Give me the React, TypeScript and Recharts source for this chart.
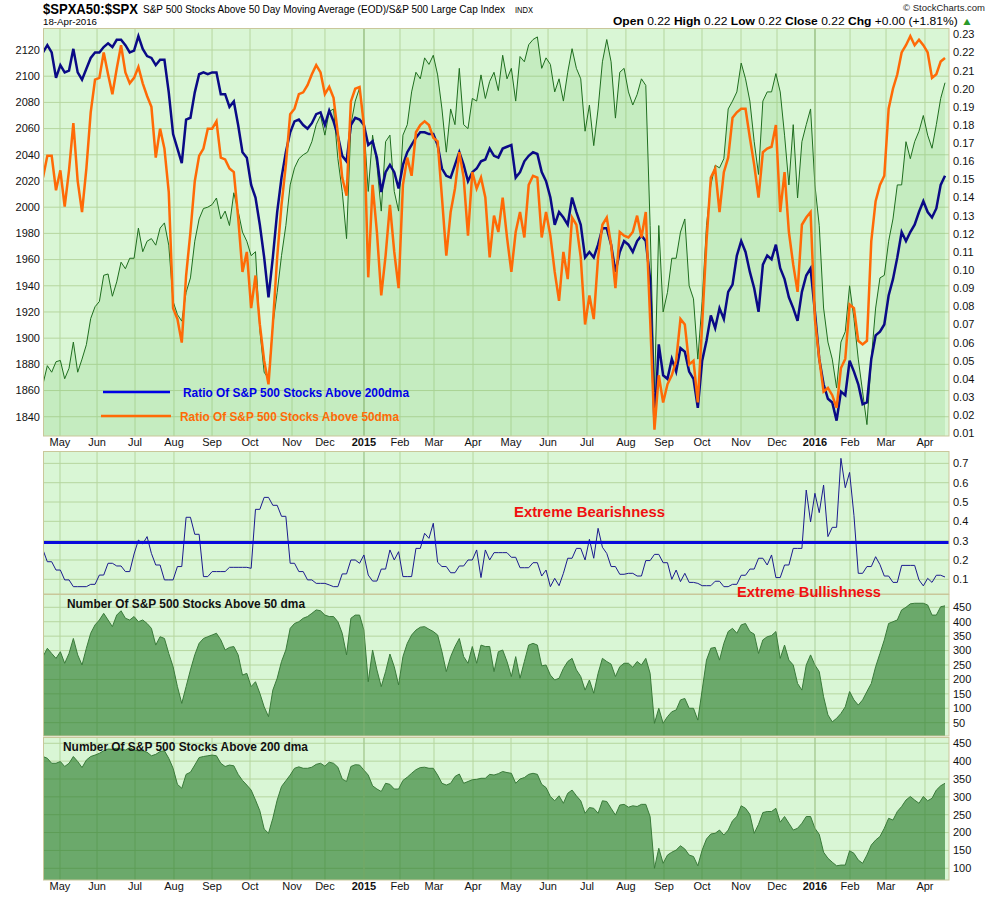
import React from "react";
import {
  ComposedChart,
  LineChart,
  AreaChart,
  Area,
  Line,
  XAxis,
  YAxis,
  CartesianGrid,
  ReferenceLine,
} from "recharts";

// x is measured in weeks from 17-Apr-2014 (0) to 18-Apr-2016 (104); one reading every half week
const monthTicks = [
  1.96, 6.23, 10.61, 15.1, 19.49, 23.87, 28.71, 32.51, 37.01, 41.16, 45.08, 49.58,
  53.96, 58.23, 62.72, 67.21, 71.6, 75.98, 80.48, 84.63, 89.01, 93.05, 97.2, 101.69,
];
const monthLabels = [
  "May", "Jun", "Jul", "Aug", "Sep", "Oct", "Nov", "Dec", "2015", "Feb", "Mar", "Apr",
  "May", "Jun", "Jul", "Aug", "Sep", "Oct", "Nov", "Dec", "2016", "Feb", "Mar", "Apr",
];
const yearTicks = [37.01, 89.01];

// S&P 500 close (left axis)
const spx = [
  1865, 1879, 1874, 1882, 1883, 1869, 1877, 1897, 1874, 1884,
  1895, 1915, 1924, 1928, 1948, 1949, 1932, 1943, 1958, 1953,
  1961, 1961, 1984, 1966, 1974, 1976, 1971, 1984, 1988, 1971,
  1928, 1918, 1913, 1935, 1946, 1974, 1991, 1999, 2000, 2002,
  2007, 1991, 1997, 1986, 2011, 1997, 1981, 1974, 1963, 1966,
  1906, 1874, 1869, 1910, 1935, 1963, 1986, 2017, 2030, 2037,
  2040, 2042, 2050, 2063, 2070, 2055, 2073, 2075, 2037, 2012,
  1976, 2063, 2081, 2091, 2063, 2012, 2055, 2032, 1997, 2050,
  2055, 2012, 1997, 2055, 2063, 2088, 2103, 2098, 2114, 2109,
  2116, 2101, 2075, 2042, 2075, 2063, 2106, 2063, 2060, 2083,
  2081, 2101, 2083, 2096, 2103,
  2089, 2116, 2098, 2106, 2081, 2115, 2111, 2124, 2128, 2130,
  2106, 2114, 2109, 2088, 2098, 2081, 2103, 2121, 2106, 2098,
  2058, 2078, 2047, 2075, 2111, 2128, 2111, 2068, 2103, 2106,
  2088, 2078, 2086, 2098, 2093, 1986, 1859, 1986, 1920, 1935,
  1961, 1961, 1981, 1991, 1940, 1930, 1884, 1928, 1986, 2017,
  2032, 2030, 2037, 2075, 2081, 2088, 2110, 2098, 2081, 2050,
  2025, 2081, 2088, 2088, 2102, 2088, 2055, 2017, 2063, 2007,
  2050, 2063, 2075, 2017, 1986, 1923, 1897, 1884, 1862, 1897,
  1905, 1940, 1915, 1884, 1859, 1834, 1884, 1923, 1946, 1948,
  1974, 1991, 2017, 2017, 2050, 2037, 2050, 2058, 2070, 2055,
  2045, 2063, 2083, 2095,
];

// Ratio of S&P 500 stocks above 200dma (right axis)
const ratio200 = [
  0.22, 0.224, 0.22, 0.206, 0.213, 0.209, 0.21, 0.222, 0.209, 0.205,
  0.211, 0.217, 0.22, 0.22, 0.223, 0.225, 0.223, 0.227, 0.227, 0.224,
  0.22, 0.221, 0.229, 0.222, 0.218, 0.217, 0.213, 0.216, 0.216, 0.198,
  0.175, 0.167, 0.159, 0.183, 0.184, 0.198, 0.208, 0.209, 0.208, 0.209,
  0.209, 0.197, 0.197, 0.19, 0.193, 0.18, 0.165, 0.162, 0.147, 0.14,
  0.125, 0.107, 0.085, 0.107, 0.132, 0.151, 0.165, 0.176, 0.182, 0.183,
  0.18, 0.178, 0.181, 0.186, 0.187, 0.18, 0.188, 0.182, 0.174, 0.163,
  0.16, 0.18, 0.184, 0.183, 0.18, 0.169, 0.171, 0.162, 0.143, 0.154,
  0.158, 0.154, 0.145, 0.158, 0.165, 0.169, 0.173, 0.176, 0.176, 0.175,
  0.175, 0.169, 0.156, 0.152, 0.151, 0.158, 0.165, 0.158, 0.149, 0.154,
  0.156, 0.16, 0.161, 0.167, 0.163,
  0.162, 0.167, 0.168, 0.169, 0.151, 0.154, 0.16, 0.163, 0.165, 0.164,
  0.154, 0.149, 0.14, 0.125, 0.132, 0.129, 0.125, 0.14, 0.132, 0.125,
  0.107, 0.11, 0.107, 0.114, 0.123, 0.123, 0.114, 0.099, 0.11, 0.116,
  0.114, 0.11, 0.116, 0.119, 0.116, 0.095, 0.015, 0.059, 0.042, 0.04,
  0.051, 0.044, 0.057, 0.055, 0.044, 0.04, 0.024, 0.05, 0.061, 0.075,
  0.068, 0.079, 0.073, 0.088, 0.092, 0.108, 0.116, 0.11, 0.099, 0.09,
  0.077, 0.103, 0.108, 0.106, 0.114, 0.101, 0.095, 0.085, 0.079, 0.072,
  0.088, 0.097, 0.101, 0.077, 0.051, 0.037, 0.029, 0.027, 0.017, 0.033,
  0.031, 0.05, 0.044, 0.037, 0.026, 0.027, 0.051, 0.064, 0.066, 0.07,
  0.086, 0.095, 0.107, 0.121, 0.116, 0.121, 0.125, 0.132, 0.138, 0.132,
  0.129, 0.134, 0.147, 0.152,
];

// Ratio of S&P 500 stocks above 50dma (right axis)
const ratio50 = [
  0.151, 0.163, 0.163, 0.144, 0.155, 0.135, 0.155, 0.181, 0.149, 0.132,
  0.156, 0.187, 0.205, 0.206, 0.22, 0.208, 0.197, 0.211, 0.224, 0.209,
  0.203, 0.206, 0.212, 0.203, 0.196, 0.19, 0.162, 0.178, 0.167, 0.143,
  0.079, 0.073, 0.06, 0.097, 0.121, 0.149, 0.163, 0.167, 0.178, 0.178,
  0.182, 0.162, 0.161, 0.156, 0.154, 0.129, 0.099, 0.11, 0.079, 0.097,
  0.07, 0.05, 0.037, 0.07, 0.107, 0.136, 0.158, 0.186, 0.189, 0.197,
  0.198, 0.202, 0.208, 0.213, 0.209, 0.197, 0.201, 0.195, 0.175, 0.151,
  0.141, 0.193, 0.2, 0.201, 0.18, 0.096, 0.147, 0.121, 0.086, 0.108,
  0.136, 0.11, 0.09, 0.147, 0.162, 0.152, 0.176, 0.18, 0.182, 0.18,
  0.173, 0.171, 0.14, 0.108, 0.132, 0.145, 0.165, 0.151, 0.119, 0.154,
  0.145, 0.151, 0.14, 0.107, 0.13,
  0.121, 0.14, 0.118, 0.099, 0.121, 0.132, 0.118, 0.147, 0.152, 0.151,
  0.118, 0.132, 0.119, 0.099, 0.083, 0.11, 0.095, 0.129, 0.125, 0.107,
  0.07, 0.086, 0.073, 0.107, 0.125, 0.129, 0.114, 0.09, 0.121, 0.119,
  0.118, 0.121, 0.13, 0.118, 0.132, 0.073, 0.012, 0.042, 0.027, 0.037,
  0.042, 0.05, 0.073, 0.07, 0.048, 0.05, 0.027, 0.07, 0.116, 0.151,
  0.156, 0.132, 0.154, 0.162, 0.184, 0.187, 0.189, 0.189, 0.173, 0.158,
  0.14, 0.165, 0.167, 0.168, 0.18, 0.132, 0.154, 0.121, 0.103, 0.088,
  0.125, 0.129, 0.132, 0.073, 0.051, 0.033, 0.035, 0.031, 0.024, 0.046,
  0.051, 0.081, 0.079, 0.061, 0.059, 0.061, 0.116, 0.138, 0.147, 0.152,
  0.189, 0.2, 0.208, 0.22, 0.224, 0.229, 0.224, 0.227, 0.224, 0.22,
  0.206, 0.208, 0.215, 0.217,
];

// middle panel indicator
const sentiment = [
  0.252, 0.191, 0.191, 0.148, 0.148, 0.097, 0.097, 0.062, 0.062, 0.062,
  0.062, 0.074, 0.074, 0.122, 0.122, 0.183, 0.183, 0.169, 0.169, 0.14,
  0.14, 0.231, 0.303, 0.283, 0.321, 0.234, 0.174, 0.174, 0.097, 0.097,
  0.097, 0.166, 0.166, 0.421, 0.421, 0.333, 0.333, 0.114, 0.114, 0.14,
  0.14, 0.14, 0.14, 0.162, 0.162, 0.162, 0.162, 0.162, 0.157, 0.462,
  0.462, 0.524, 0.524, 0.483, 0.483, 0.426, 0.426, 0.183, 0.183, 0.14,
  0.14, 0.097, 0.097, 0.079, 0.079, 0.079, 0.071, 0.062, 0.062, 0.128,
  0.128, 0.2, 0.2, 0.183, 0.226, 0.122, 0.091, 0.091, 0.153, 0.153,
  0.252, 0.2, 0.243, 0.114, 0.114, 0.114, 0.26, 0.26, 0.338, 0.312,
  0.39, 0.188, 0.166, 0.166, 0.134, 0.134, 0.169, 0.169, 0.2, 0.2,
  0.252, 0.109, 0.252, 0.2, 0.238, 0.238, 0.238, 0.238, 0.214, 0.214,
  0.16, 0.16, 0.16, 0.186, 0.186, 0.117, 0.148, 0.062, 0.105, 0.067,
  0.131, 0.209, 0.209, 0.26, 0.26, 0.2, 0.307, 0.209, 0.364, 0.266,
  0.234, 0.166, 0.166, 0.126, 0.126, 0.131, 0.131, 0.117, 0.117, 0.197,
  0.197, 0.229, 0.229, 0.186, 0.186, 0.1, 0.148, 0.088, 0.131, 0.084,
  0.084, 0.079, 0.067, 0.067, 0.067, 0.09, 0.09, 0.062, 0.062, 0.074,
  0.074, 0.121, 0.121, 0.153, 0.153, 0.209, 0.209, 0.174, 0.226, 0.109,
  0.109, 0.174, 0.174, 0.26, 0.26, 0.26, 0.562, 0.397, 0.545, 0.445,
  0.588, 0.321, 0.369, 0.369, 0.726, 0.574, 0.653, 0.431, 0.131, 0.131,
  0.166, 0.166, 0.217, 0.176, 0.117, 0.117, 0.084, 0.084, 0.172, 0.172,
  0.172, 0.172, 0.097, 0.066, 0.105, 0.084, 0.121, 0.121, 0.112,
];
const sentimentThreshold = 0.29;

// Number of S&P 500 stocks above 50 dma
const above50 = [
  279, 308, 290, 273, 296, 256, 290, 342, 285, 250,
  308, 360, 389, 406, 429, 406, 383, 423, 438, 412,
  406, 418, 400, 406, 394, 377, 319, 348, 342, 290,
  244, 175, 117, 175, 233, 285, 325, 342, 348, 354,
  360, 337, 302, 311, 314, 285, 215, 221, 175, 192,
  152, 105, 71, 163, 204, 262, 302, 377, 394, 400,
  412, 418, 429, 441, 438, 423, 418, 418, 400, 360,
  285, 412, 423, 423, 371, 192, 302, 233, 175, 227,
  288, 244, 181, 279, 325, 354, 371, 381, 383, 374,
  366, 354, 296, 227, 279, 314, 342, 279, 256, 314,
  256, 319, 314, 314, 227, 296, 302, 262, 210, 279,
  204, 262, 319, 325, 319, 247, 250, 215, 198, 204,
  238, 262, 273, 233, 210, 163, 198, 152, 221, 273,
  262, 253, 210, 244, 256, 256, 242, 262, 250, 273,
  221, 48, 100, 48, 71, 88, 94, 129, 134, 100,
  100, 59, 163, 267, 308, 311, 267, 325, 366, 377,
  360, 389, 394, 366, 357, 290, 337, 348, 352, 366,
  273, 319, 267, 250, 186, 163, 250, 285, 250, 227,
  140, 77, 53, 65, 82, 105, 158, 129, 111, 129,
  158, 186, 244, 290, 337, 394, 400, 406, 441, 450,
  462, 464, 464, 464, 458, 423, 423, 452, 455,
];

// Number of S&P 500 stocks above 200 dma
const above200 = [
  413, 408, 394, 394, 399, 385, 394, 413, 399, 382,
  403, 413, 417, 422, 429, 434, 433, 436, 434, 431,
  438, 431, 429, 429, 425, 415, 419, 427, 429, 408,
  380, 335, 324, 363, 369, 389, 410, 413, 415, 417,
  415, 394, 385, 389, 387, 363, 346, 333, 319, 291,
  261, 210, 198, 240, 291, 329, 345, 361, 380, 384,
  380, 380, 383, 391, 394, 386, 397, 394, 383, 350,
  343, 385, 390, 389, 375, 361, 331, 322, 315, 338,
  335, 322, 322, 346, 355, 366, 376, 382, 383, 380,
  380, 361, 338, 333, 338, 357, 364, 338, 343, 348,
  349, 352, 352, 363, 361, 365, 371, 368, 366, 338,
  350, 354, 363, 366, 363, 335, 326, 301, 289, 303,
  282, 310, 319, 303, 289, 254, 270, 268, 254, 289,
  287, 268, 249, 277, 279, 271, 275, 273, 279, 279,
  245, 100, 156, 114, 137, 145, 151, 163, 154, 137,
  133, 107, 151, 182, 196, 198, 207, 193, 207, 233,
  245, 275, 268, 251, 198, 223, 256, 259, 259, 268,
  229, 245, 226, 207, 212, 226, 245, 245, 212, 195,
  145, 128, 117, 107, 109, 109, 149, 142, 123, 114,
  137, 165, 179, 189, 212, 240, 235, 259, 273, 291,
  301, 291, 282, 301, 289, 296, 319, 331, 338,
];

const priceTicks = [1840, 1860, 1880, 1900, 1920, 1940, 1960, 1980, 2000, 2020, 2040, 2060, 2080, 2100, 2120];
const ratioTicks = [0.01, 0.02, 0.03, 0.04, 0.05, 0.06, 0.07, 0.08, 0.09, 0.1, 0.11, 0.12, 0.13, 0.14, 0.15, 0.16, 0.17, 0.18, 0.19, 0.2, 0.21, 0.22, 0.23];
const sentimentTicks = [0.1, 0.2, 0.3, 0.4, 0.5, 0.6, 0.7];
const above50Ticks = [50, 100, 150, 200, 250, 300, 350, 400, 450];
const above200Ticks = [100, 150, 200, 250, 300, 350, 400, 450];

const X_MAX = 104.46;
const FONT = "'Liberation Sans', Arial, sans-serif";
const BG = "#d9f6d5";
const GRID = "#b6d69f";
const YEAR_LINE = "#8fb87a";
const BORDER = "#c9c79a";

const weekOf = (j: number) => j / 2;
const topData = spx.map((v, j) => ({ w: weekOf(j), spx: v, r200: ratio200[j], r50: ratio50[j] }));
const midData = sentiment.map((v, j) => ({ w: weekOf(j), v }));
const a50Data = above50.map((v, j) => ({ w: weekOf(j), v }));
const a200Data = above200.map((v, j) => ({ w: weekOf(j), v }));

const MonthTick = (props: any) => {
  const { x, y, payload } = props;
  const label = monthLabels[monthTicks.indexOf(payload.value)] ?? "";
  const isYear = /^\d{4}$/.test(label);
  return (
    <text x={x} y={y} dy={10} textAnchor="middle" fontSize={11} fontWeight={isYear ? 700 : 400} fill="#111" fontFamily={FONT}>
      {label}
    </text>
  );
};

const tickStyle = { fontSize: 11, fill: "#111", fontFamily: FONT };

const App = () => {
  return (
    <div style={{ position: "absolute", left: 0, top: 0, width: 990, height: 897, background: "#fff", fontFamily: FONT }}>
      <style>{`.recharts-surface{overflow:visible}`}</style>

      {/* price + ratios */}
      <div style={{ position: "absolute", left: 0, top: 0 }}>
        <ComposedChart width={990} height={451} data={topData} margin={{ top: 28, right: 0, bottom: 0, left: 0 }}>
          <CartesianGrid yAxisId="left" fill={BG} stroke={GRID} verticalValues={monthTicks} horizontalValues={priceTicks} />
          <XAxis dataKey="w" type="number" domain={[0, X_MAX]} allowDataOverflow ticks={monthTicks} interval={0} tick={<MonthTick />} tickLine={false} axisLine={false} tickSize={0} tickMargin={0} height={15} />
          <YAxis yAxisId="left" orientation="left" domain={[1825.3, 2136.8]} allowDataOverflow ticks={priceTicks} interval={0} width={43} tickLine={false} axisLine={false} tickSize={0} tickMargin={3} tick={tickStyle} />
          <YAxis yAxisId="right" orientation="right" domain={[0.0085, 0.2335]} allowDataOverflow ticks={ratioTicks} interval={0} width={41} tickLine={false} axisLine={false} tickSize={0} tickMargin={4} tick={tickStyle} tickFormatter={(v: number) => v.toFixed(2)} />
          <Area yAxisId="left" dataKey="spx" type="linear" stroke="#1f6e1f" strokeWidth={1} fill="#78c86e" fillOpacity={0.2} isAnimationActive={false} dot={false} activeDot={false} />
          <ReferenceLine yAxisId="left" x={yearTicks[0]} stroke={YEAR_LINE} />
          <ReferenceLine yAxisId="left" x={yearTicks[1]} stroke={YEAR_LINE} />
          <Line yAxisId="right" dataKey="r200" type="linear" stroke="#0a0a86" strokeWidth={2.5} dot={false} activeDot={false} isAnimationActive={false} />
          <Line yAxisId="right" dataKey="r50" type="linear" stroke="#ff6a06" strokeWidth={2.5} dot={false} activeDot={false} isAnimationActive={false} />
        </ComposedChart>
      </div>

      {/* sentiment panel */}
      <div style={{ position: "absolute", left: 0, top: 451 }}>
        <LineChart width={990} height={143} data={midData} margin={{ top: 0, right: 0, bottom: 0, left: 43 }}>
          <CartesianGrid fill={BG} stroke={GRID} verticalValues={monthTicks} horizontalValues={sentimentTicks} />
          <XAxis dataKey="w" type="number" domain={[0, X_MAX]} allowDataOverflow hide />
          <YAxis orientation="right" domain={[0.024, 0.764]} allowDataOverflow ticks={sentimentTicks} interval={0} width={41} tickLine={false} axisLine={false} tickSize={0} tickMargin={4} tick={tickStyle} tickFormatter={(v: number) => v.toFixed(1)} />
          <ReferenceLine x={yearTicks[0]} stroke={YEAR_LINE} />
          <ReferenceLine x={yearTicks[1]} stroke={YEAR_LINE} />
          <Line dataKey="v" type="linear" stroke="#1b1b8e" strokeWidth={1} dot={false} activeDot={false} isAnimationActive={false} />
          <ReferenceLine y={sentimentThreshold} stroke="#0a0adc" strokeWidth={3} />
        </LineChart>
      </div>

      {/* stocks above 50 dma */}
      <div style={{ position: "absolute", left: 0, top: 594 }}>
        <AreaChart width={990} height={142} data={a50Data} margin={{ top: 0, right: 0, bottom: 0, left: 43 }}>
          <CartesianGrid fill={BG} stroke={GRID} verticalValues={monthTicks} horizontalValues={above50Ticks} />
          <XAxis dataKey="w" type="number" domain={[0, X_MAX]} allowDataOverflow hide />
          <YAxis orientation="right" domain={[3.9, 496.1]} allowDataOverflow ticks={above50Ticks} interval={0} width={41} tickLine={false} axisLine={false} tickSize={0} tickMargin={4} tick={tickStyle} />
          <Area dataKey="v" type="linear" stroke="#3a7b3a" strokeWidth={1} fill="#217724" fillOpacity={0.6} isAnimationActive={false} dot={false} activeDot={false} />
          <ReferenceLine x={yearTicks[0]} stroke={YEAR_LINE} strokeOpacity={0.6} />
          <ReferenceLine x={yearTicks[1]} stroke={YEAR_LINE} strokeOpacity={0.6} />
        </AreaChart>
      </div>

      {/* stocks above 200 dma */}
      <div style={{ position: "absolute", left: 0, top: 737 }}>
        <AreaChart width={990} height={160} data={a200Data} margin={{ top: 0, right: 0, bottom: 0, left: 43 }}>
          <CartesianGrid fill={BG} stroke={GRID} verticalValues={monthTicks} horizontalValues={above200Ticks} />
          <XAxis dataKey="w" type="number" domain={[0, X_MAX]} allowDataOverflow ticks={monthTicks} interval={0} tick={<MonthTick />} tickLine={false} axisLine={false} tickSize={0} tickMargin={0} height={17} />
          <YAxis orientation="right" domain={[67.2, 467.6]} allowDataOverflow ticks={above200Ticks} interval={0} width={41} tickLine={false} axisLine={false} tickSize={0} tickMargin={4} tick={tickStyle} />
          <Area dataKey="v" type="linear" stroke="#3a7b3a" strokeWidth={1} fill="#217724" fillOpacity={0.6} isAnimationActive={false} dot={false} activeDot={false} />
          <ReferenceLine x={yearTicks[0]} stroke={YEAR_LINE} strokeOpacity={0.6} />
          <ReferenceLine x={yearTicks[1]} stroke={YEAR_LINE} strokeOpacity={0.6} />
        </AreaChart>
      </div>

      {/* panel borders, header, legend, annotations */}
      <svg width={990} height={897} style={{ position: "absolute", left: 0, top: 0, pointerEvents: "none" }} fontFamily={FONT}>
        <rect x={43.5} y={28.5} width={905.5} height={407.5} fill="none" stroke={BORDER} />
        <rect x={43.5} y={451.5} width={905.5} height={142.5} fill="none" stroke={BORDER} />
        <rect x={43.5} y={594.5} width={905.5} height={141.5} fill="none" stroke={BORDER} />
        <rect x={43.5} y={737.5} width={905.5} height={142.5} fill="none" stroke={BORDER} />

        <text x={43} y={14} fontSize={14} fontWeight={700} textLength={95} lengthAdjust="spacingAndGlyphs">$SPXA50:$SPX</text>
        <text x={143} y={13} fontSize={10} textLength={362} lengthAdjust="spacingAndGlyphs">S&amp;P 500 Stocks Above 50 Day Moving Average (EOD)/S&amp;P 500 Large Cap Index</text>
        <text x={515} y={13} fontSize={8.5} textLength={18} lengthAdjust="spacingAndGlyphs">INDX</text>
        <text x={43} y={25} fontSize={9.5} textLength={54} lengthAdjust="spacingAndGlyphs">18-Apr-2016</text>
        <text x={985} y={11} fontSize={9.5} textAnchor="end" fill="#222">© StockCharts.com</text>
        <text x={613} y={25} fontSize={10.5} textLength={360} lengthAdjust="spacingAndGlyphs">
          <tspan fontWeight={700}>Open</tspan> 0.22 <tspan fontWeight={700}>High</tspan> 0.22 <tspan fontWeight={700}>Low</tspan> 0.22 <tspan fontWeight={700}>Close</tspan> 0.22 <tspan fontWeight={700}>Chg</tspan> +0.00 (+1.81%) <tspan fill="#2a9a2a">▲</tspan>
        </text>

        <line x1={103} y1={392} x2={170} y2={392} stroke="#0000e6" strokeWidth={2.5} />
        <text x={183} y={396.5} fontSize={12.5} fontWeight={700} fill="#0000e6" textLength={226} lengthAdjust="spacingAndGlyphs">Ratio Of S&amp;P 500 Stocks Above 200dma</text>
        <line x1={101} y1={416} x2={171} y2={416} stroke="#ff6a06" strokeWidth={2.5} />
        <text x={180} y={420.5} fontSize={12.5} fontWeight={700} fill="#ff6a06" textLength={219} lengthAdjust="spacingAndGlyphs">Ratio Of S&amp;P 500 Stocks Above 50dma</text>

        <text x={514} y={517} fontSize={15} fontWeight={700} fill="#f01010" textLength={151} lengthAdjust="spacingAndGlyphs">Extreme Bearishness</text>
        <text x={737} y={597} fontSize={15} fontWeight={700} fill="#f01010" textLength={144} lengthAdjust="spacingAndGlyphs">Extreme Bullishness</text>

        <text x={67} y={608} fontSize={12} fontWeight={700} fill="#111" textLength={238} lengthAdjust="spacingAndGlyphs">Number Of S&amp;P 500 Stocks Above 50 dma</text>
        <text x={63} y={751} fontSize={12} fontWeight={700} fill="#111" textLength={245} lengthAdjust="spacingAndGlyphs">Number Of S&amp;P 500 Stocks Above 200 dma</text>
      </svg>
    </div>
  );
};

export default App;
